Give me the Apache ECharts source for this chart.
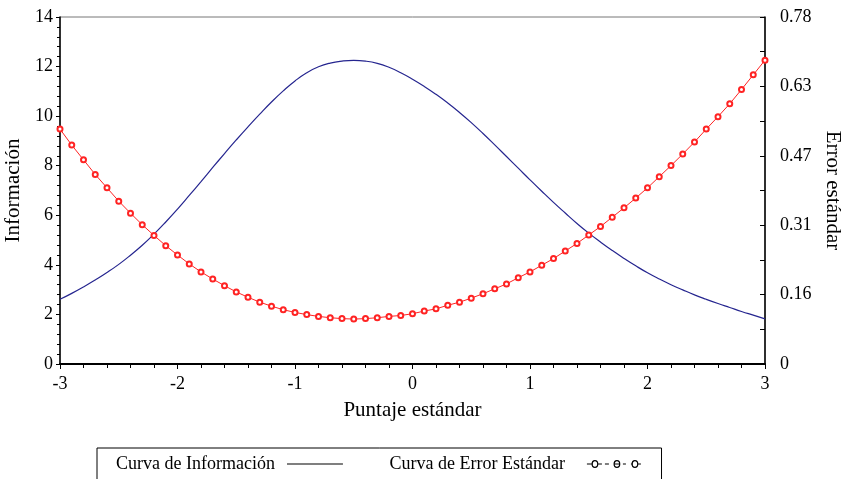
<!DOCTYPE html>
<html>
<head>
<meta charset="utf-8">
<script src="https://cdn.jsdelivr.net/npm/echarts@6/dist/echarts.min.js"></script>
<style>
  html, body { margin: 0; padding: 0; background: #fff; }
  #chart { width: 842px; height: 479px; }
</style>
</head>
<body>
<div id="chart"></div>
<script>
// Standard score grid (theta)
const theta = [
  -3.0, -2.9, -2.8, -2.7, -2.6, -2.5, -2.4, -2.3, -2.2, -2.1,
  -2.0, -1.9, -1.8, -1.7, -1.6, -1.5, -1.4, -1.3, -1.2, -1.1,
  -1.0, -0.9, -0.8, -0.7, -0.6, -0.5, -0.4, -0.3, -0.2, -0.1,
   0.0,  0.1,  0.2,  0.3,  0.4,  0.5,  0.6,  0.7,  0.8,  0.9,
   1.0,  1.1,  1.2,  1.3,  1.4,  1.5,  1.6,  1.7,  1.8,  1.9,
   2.0,  2.1,  2.2,  2.3,  2.4,  2.5,  2.6,  2.7,  2.8,  2.9,
   3.0
];

// Test information at each theta (left axis)
const information = [
  2.61, 2.85, 3.11, 3.39, 3.69, 4.02, 4.39, 4.79, 5.24, 5.73,
  6.25, 6.80, 7.36, 7.93, 8.49, 9.04, 9.57, 10.08, 10.57, 11.02,
  11.42, 11.75, 11.99, 12.14, 12.22, 12.25, 12.22, 12.13, 11.97, 11.75,
  11.49, 11.20, 10.88, 10.53, 10.15, 9.74, 9.30, 8.84, 8.37, 7.90,
  7.43, 6.97, 6.52, 6.09, 5.67, 5.28, 4.92, 4.58, 4.26, 3.96,
  3.68, 3.43, 3.20, 2.99, 2.79, 2.61, 2.44, 2.28, 2.12, 1.97,
  1.82
];

// Standard error at each theta (right axis)
const stdError = [
  0.528, 0.492, 0.459, 0.426, 0.396, 0.366, 0.339, 0.313, 0.289, 0.266,
  0.245, 0.225, 0.207, 0.191, 0.176, 0.162, 0.150, 0.139, 0.130, 0.122,
  0.116, 0.111, 0.107, 0.104, 0.102, 0.101, 0.102, 0.104, 0.107, 0.109,
  0.113, 0.119, 0.124, 0.132, 0.139, 0.148, 0.158, 0.169, 0.180, 0.194,
  0.207, 0.222, 0.237, 0.254, 0.271, 0.290, 0.309, 0.330, 0.351, 0.373,
  0.396, 0.421, 0.446, 0.472, 0.499, 0.528, 0.556, 0.585, 0.617, 0.650,
  0.683
];

// Right-axis tick labels
const seTickLabels = ['0', '0.16', '0.31', '0.47', '0.63', '0.78'];

const SE_MAX = 0.78;
const SE_STEP = SE_MAX / 5;

const FONT = 'Liberation Serif, Times New Roman, serif';

const infoPairs = theta.map((t, i) => [t, information[i]]);
const sePairs = theta.map((t, i) => [t, stdError[i]]);

// Legend sample glyphs, both drawn in a 72 x 8 box
const lineIcon = 'path://M0,0M72,8M7,4H63';
const seIcon = 'path://M0,0M72,8' +
  'M17,4H23M28,4H32M35,4H39M44,4H50M53,4H56M61,4H63M68,4H71' +
  'M27.8,4A2.8,3.4 0 1 1 22.2,4A2.8,3.4 0 1 1 27.8,4' +
  'M49.8,4A2.8,3.4 0 1 1 44.2,4A2.8,3.4 0 1 1 49.8,4' +
  'M67.8,4A2.8,3.4 0 1 1 62.2,4A2.8,3.4 0 1 1 67.8,4';

const chart = echarts.init(document.getElementById('chart'), null, { renderer: 'canvas' });

chart.setOption({
  animation: false,
  backgroundColor: '#fff',
  textStyle: { fontFamily: FONT },
  grid: {
    left: 60, right: 77, top: 17, bottom: 115,
    containLabel: false,
    outerBoundsMode: 'none',
    show: true, borderColor: '#777', borderWidth: 1, backgroundColor: 'transparent'
  },
  legend: {
    left: 97, top: 448,
    orient: 'horizontal',
    align: 'right',
    selectedMode: false,
    itemWidth: 72, itemHeight: 8,
    itemGap: 37,
    padding: [7, 19, 40, 19],
    borderColor: '#000', borderWidth: 1,
    textStyle: { fontFamily: FONT, fontSize: 18, color: '#000' },
    data: [
      { name: 'Curva de Información', icon: lineIcon,
        itemStyle: { color: 'transparent', borderColor: '#000', borderWidth: 1.1 } },
      { name: 'Curva de Error Estándar', icon: seIcon,
        itemStyle: { color: 'transparent', borderColor: '#000', borderWidth: 1.2 } }
    ]
  },
  xAxis: {
    type: 'value',
    min: -3, max: 3, interval: 1,
    name: 'Puntaje estándar',
    nameLocation: 'middle',
    nameGap: 36,
    nameTextStyle: { fontFamily: FONT, fontSize: 21, color: '#000' },
    axisLine: { onZero: false, lineStyle: { color: '#000', width: 2 } },
    axisTick: { show: true, inside: false, length: 5, lineStyle: { color: '#000', width: 1 } },
    minorTick: { show: true, splitNumber: 5, length: 4, lineStyle: { color: '#000', width: 1 } },
    axisLabel: { fontFamily: FONT, fontSize: 18, color: '#000', margin: 11 },
    splitLine: { show: false }
  },
  yAxis: [
    {
      type: 'value',
      position: 'left',
      min: 0, max: 14, interval: 2,
      name: 'Información',
      nameLocation: 'middle',
      nameGap: 30,
      nameRotate: 90,
      nameTextStyle: { fontFamily: FONT, fontSize: 21, color: '#000' },
      axisLine: { show: true, onZero: false, lineStyle: { color: '#000', width: 1.5 } },
      axisTick: { show: true, inside: false, length: 4, lineStyle: { color: '#000', width: 1 } },
      minorTick: { show: true, splitNumber: 5, length: 3, lineStyle: { color: '#000', width: 1 } },
      axisLabel: { fontFamily: FONT, fontSize: 18, color: '#000', margin: 7 },
      splitLine: { show: false }
    },
    {
      type: 'value',
      position: 'right',
      min: 0, max: SE_MAX, interval: SE_STEP,
      name: 'Error estándar',
      nameLocation: 'middle',
      nameGap: 50,
      nameRotate: -90,
      nameTextStyle: { fontFamily: FONT, fontSize: 21, color: '#000' },
      axisLine: { show: true, onZero: false, lineStyle: { color: '#000', width: 1.5 } },
      axisTick: { show: true, inside: true, length: 5, lineStyle: { color: '#000', width: 1 } },
      minorTick: { show: true, splitNumber: 2, length: 5, lineStyle: { color: '#000', width: 1 } },
      axisLabel: {
        fontFamily: FONT, fontSize: 18, color: '#000', margin: 15,
        formatter: function (v) {
          const k = Math.round(v / SE_STEP);
          return seTickLabels[k] !== undefined ? seTickLabels[k] : '';
        }
      },
      splitLine: { show: false }
    }
  ],
  series: [
    {
      name: 'Curva de Información',
      type: 'line',
      yAxisIndex: 0,
      data: infoPairs,
      smooth: true,
      showSymbol: false,
      symbol: 'none',
      lineStyle: { color: '#25258f', width: 1.2 },
      itemStyle: { color: '#25258f' },
      z: 3
    },
    {
      name: 'Curva de Error Estándar',
      type: 'line',
      yAxisIndex: 1,
      data: sePairs,
      smooth: false,
      symbol: 'emptyCircle',
      symbolSize: 5,
      showSymbol: true,
      lineStyle: { color: '#ff2323', width: 1 },
      itemStyle: { color: '#ff2323', borderColor: '#ff2323', borderWidth: 1 },
      z: 4
    }
  ]
});
</script>
</body>
</html>
